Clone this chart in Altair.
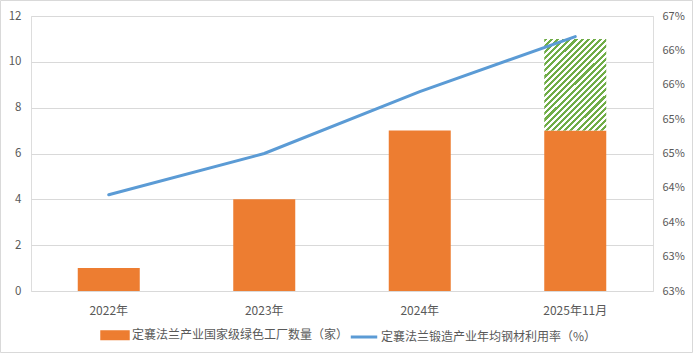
import altair as alt
import pandas as pd

years = ["2022年", "2023年", "2024年", "2025年11月"]
factories = [1, 4, 7, 7]
factory_target = [None, None, None, 11]
utilization = [63.9, 64.5, 65.4, 66.2]
left_ticks = [0, 2, 4, 6, 8, 10, 12]
right_ticks = [62.5, 63.0, 63.5, 64.0, 64.5, 65.0, 65.5, 66.0, 66.5]
bar_label = "定襄法兰产业国家级绿色工厂数量（家）"
line_label = "定襄法兰锻造产业年均钢材利用率（%）"

ORANGE = "#ED7D31"
BLUE = "#5B9BD5"
GREEN = "#70AD47"
GRAY_TXT = "#595959"
FONT = "Noto Sans CJK SC"

bar_df = pd.DataFrame({"year": years, "value": factories, "series": bar_label})
hatch_df = pd.DataFrame({"year": years, "base": factories, "target": factory_target}).dropna()
line_df = pd.DataFrame({"year": years, "rate": utilization, "series": line_label})

# diagonal hatch made with a striped linear gradient
N = 25
f = 0.5
stops = []
for i in range(N):
    stops.append(alt.GradientStop(color=GREEN, offset=i / N))
    stops.append(alt.GradientStop(color=GREEN, offset=(i + f) / N))
    stops.append(alt.GradientStop(color="#FFFFFF", offset=(i + f) / N))
    stops.append(alt.GradientStop(color="#FFFFFF", offset=(i + 1) / N))
w_px, h_px = 62.0, 92.0
a = (w_px + h_px) / (w_px / h_px + h_px / w_px)
hatch_fill = alt.LinearGradient(gradient="linear", stops=stops,
                                x1=0, y1=0, x2=a / h_px, y2=a / w_px)

x_enc = alt.X("year:N", sort=years,
              scale=alt.Scale(paddingInner=0.6, paddingOuter=0.3),
              axis=alt.Axis(title=None, labelAngle=0, domain=False, ticks=False,
                            labelColor=GRAY_TXT, labelFontSize=12, labelFont=FONT,
                            labelPadding=14))

left_scale = alt.Scale(domain=[0, 12], nice=False)
left_axis = alt.Axis(title=None, values=left_ticks, domain=False, ticks=False,
                     gridColor="#D9D9D9", labelColor=GRAY_TXT, labelFontSize=11.5,
                     labelFont=FONT, labelPadding=10)

color_scale = alt.Scale(domain=[bar_label, line_label], range=[ORANGE, BLUE])
rect_path = "M-1,-0.27H1V0.27H-1Z"
line_path = "M-1,0H1"
is_bar = f"datum.value === '{bar_label}'"
legend = alt.Legend(
    title=None, orient="none", legendX=69, legendY=304, direction="horizontal",
    symbolSize=700, labelLimit=0,
    labelFontSize=12, labelFont=FONT, labelColor=GRAY_TXT, columnPadding=-6,
    labelOffset=2, symbolOpacity=1, symbolStrokeWidth=3,
    symbolType=alt.ExprRef(expr=f"{is_bar} ? '{rect_path}' : '{line_path}'"),
    symbolFillColor=alt.ExprRef(expr=f"{is_bar} ? '{ORANGE}' : 'transparent'"),
    symbolStrokeColor=alt.ExprRef(expr=f"{is_bar} ? 'transparent' : '{BLUE}'"),
)

bars = alt.Chart(bar_df).mark_bar(size=62).encode(
    x=x_enc,
    y=alt.Y("value:Q", scale=left_scale, axis=left_axis),
    color=alt.Color("series:N", scale=color_scale, legend=legend),
)

hatch = alt.Chart(hatch_df).mark_bar(fill=hatch_fill, size=62).encode(
    x=alt.X("year:N", sort=years),
    y=alt.Y("base:Q", scale=left_scale),
    y2="target:Q",
)

line = alt.Chart(line_df).mark_line(strokeWidth=3, strokeCap="round").encode(
    x=alt.X("year:N", sort=years),
    y=alt.Y("rate:Q", scale=alt.Scale(domain=[62.5, 66.5], nice=False, zero=False),
            axis=alt.Axis(title=None, orient="right", values=right_ticks, grid=False,
                          domain=False, ticks=False, labelColor=GRAY_TXT,
                          labelFontSize=11, labelFont=FONT, labelPadding=9,
                          labelExpr="round(datum.value) + '%'")),
    color=alt.Color("series:N", scale=color_scale, legend=legend),
)

border = alt.Chart(pd.DataFrame({"k": [0]})).mark_rect(
    fill=None, stroke="#D9D9D9", strokeWidth=1, clip=False
).encode(x=alt.value(-30.5), x2=alt.value(661.5), y=alt.value(-15.5), y2=alt.value(336.5))

left_layer = alt.layer(bars, hatch)
chart = alt.layer(left_layer, line, border).resolve_scale(y="independent").properties(
    width=622, height=275,
    autosize=alt.AutoSizeParams(type="none"),
    padding={"left": 31, "top": 16, "right": 40, "bottom": 63},
).configure_view(stroke=None).configure(background="#FFFFFF")

chart.save("out.html", embed_options={"renderer": "svg", "actions": False})
